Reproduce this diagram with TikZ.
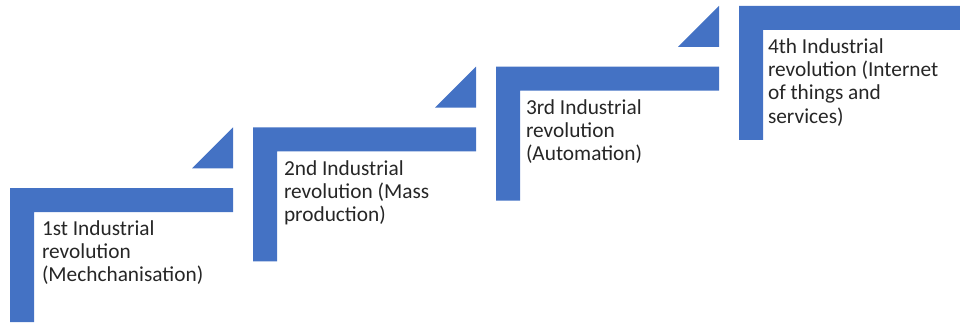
\documentclass[tikz,border=0pt]{standalone}
\usepackage{fontspec}
\setmainfont{Carlito}
\definecolor{stepblue}{HTML}{4472C4}

\begin{document}
\begin{tikzpicture}[
x = 0.75pt, y = -0.75pt,
    ST/.style = {fill=stepblue, draw=none},
    LB/.style = {anchor=base west,
                 inner sep=0pt, outer sep=0pt,
                 font=\fontsize{16}{17.5}\selectfont,
                 text=black!85},
                        ]
\useasboundingbox (0,0) rectangle (960,322);
% stairs: left edge / top edge of each step
\foreach \l/\t in {10/188, 253/127.3, 496/66.6, 739/5.9}
{
\fill[ST]   (\l,\t+134) -- (\l,\t) -- (\l+223,\t) -- (\l+223,\t+24)
            -- (\l+24,\t+24) -- (\l+24,\t+134) -- cycle;
}
% small wedges in front of the next step
\foreach \r/\t in {233/127.3, 476/66.6, 719/5.9}
    \fill[ST]   (\r-41,\t+41) -- (\r,\t+41) -- (\r,\t) -- cycle;
% texts, baseline of the first line at the given point
\node[LB] (r1) at (42,235)  {\begin{tabular}[t]{@{}l@{}}
                                1st Industrial\\ revolution\\ (Mechchanisation)
                             \end{tabular}};
\node[LB] (r2) at (284,175) {\begin{tabular}[t]{@{}l@{}}
                                2nd Industrial\\ revolution (Mass\\ production)
                             \end{tabular}};
\node[LB] (r3) at (526,114) {\begin{tabular}[t]{@{}l@{}}
                                3rd Industrial\\ revolution\\ (Automation)
                             \end{tabular}};
\node[LB] (r4) at (768,53)  {\begin{tabular}[t]{@{}l@{}}
                                4th Industrial\\ revolution (Internet\\
                                of things and\\ services)
                             \end{tabular}};
    \end{tikzpicture}
\end{document}
